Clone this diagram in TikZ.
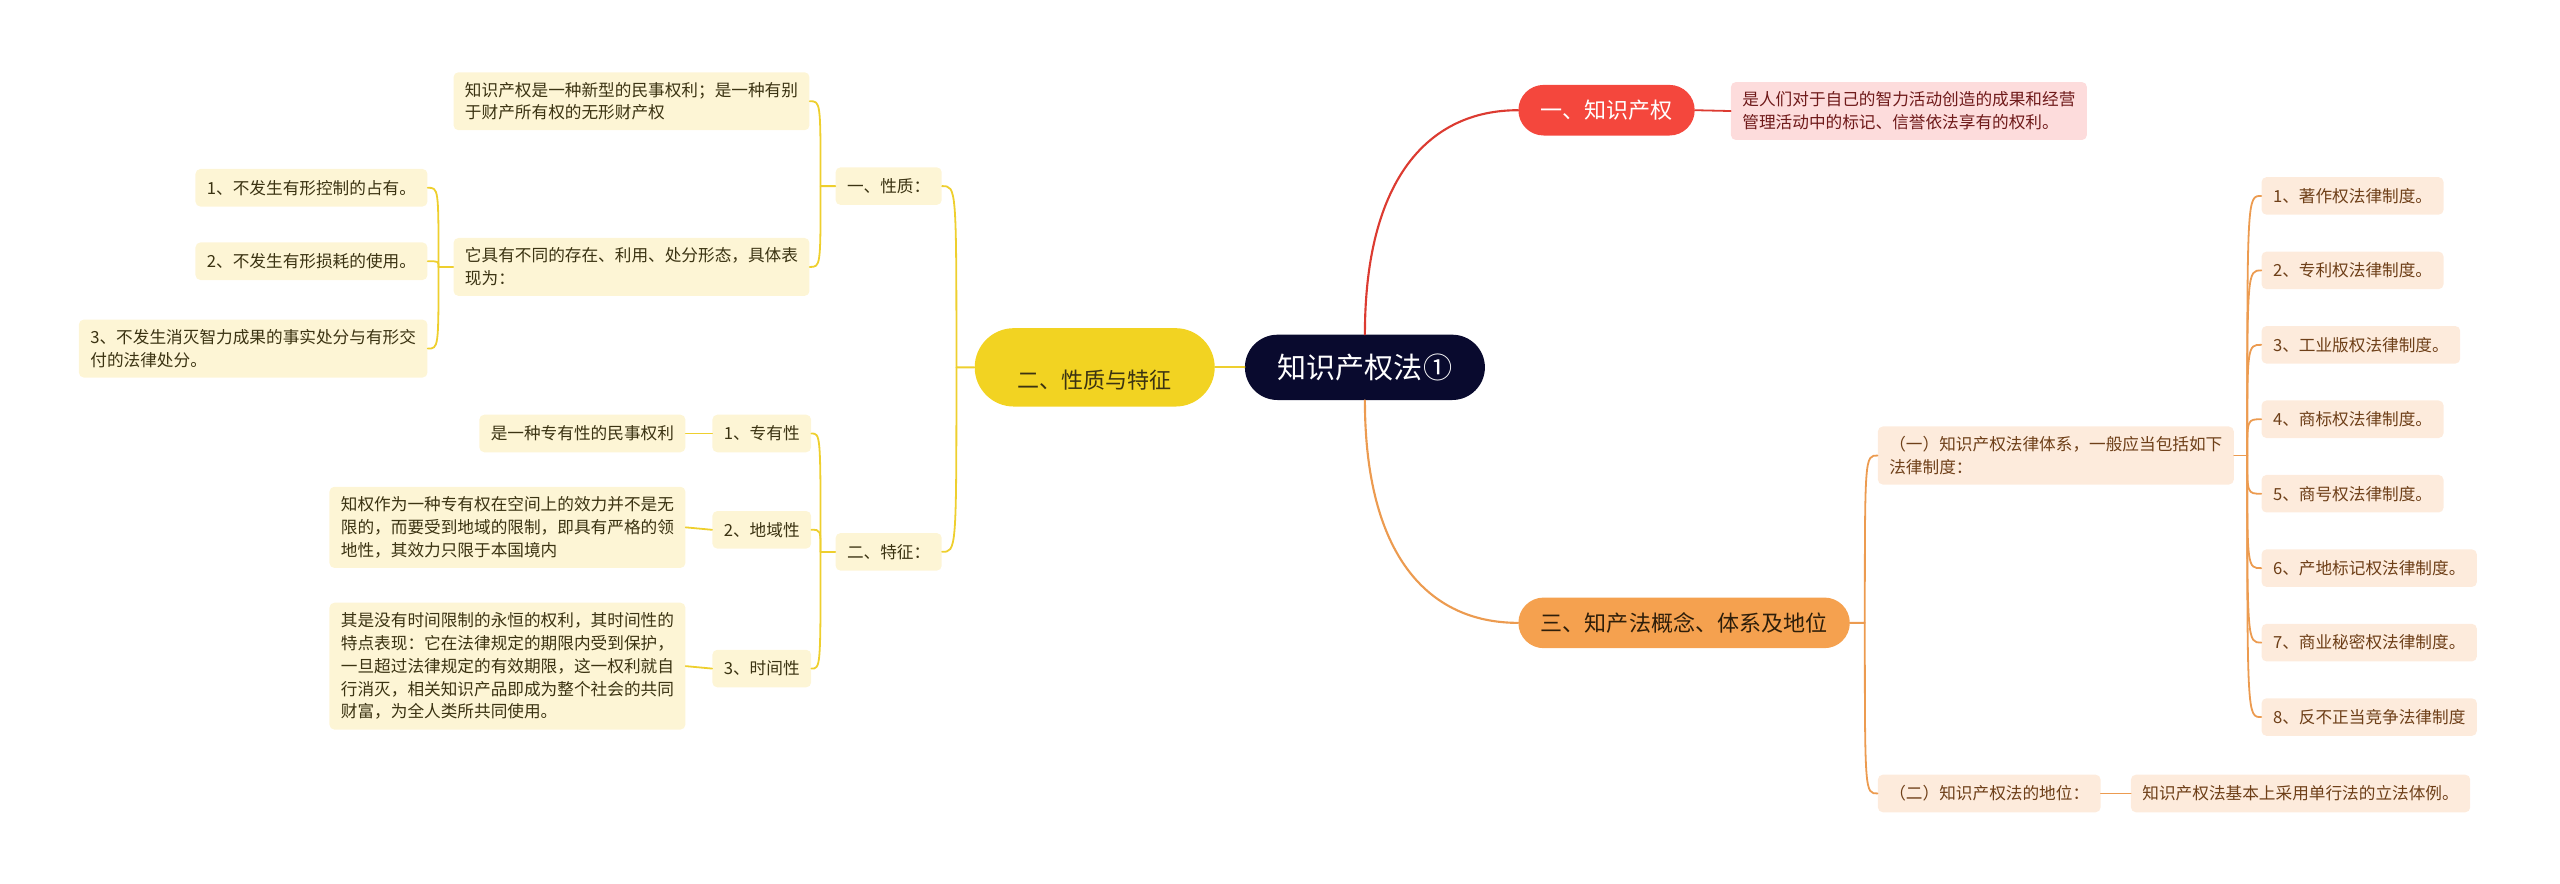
\documentclass[tikz,border=0pt]{standalone}
\usepackage{fontspec}
\setmainfont{Noto Sans CJK SC}
\definecolor{rootbg}{HTML}{090A2E}
\definecolor{ypill}{HTML}{F2D322}
\definecolor{yline}{HTML}{EECF2E}
\definecolor{ycream}{HTML}{FDF5D5}
\definecolor{ytext}{HTML}{3B3312}
\definecolor{rpill}{HTML}{F4473D}
\definecolor{rline}{HTML}{DC3B31}
\definecolor{rpink}{HTML}{FDDCDC}
\definecolor{rtext}{HTML}{6F1A1A}
\definecolor{opill}{HTML}{F5A14F}
\definecolor{oline}{HTML}{EC9B50}
\definecolor{opeach}{HTML}{FDEBDC}
\definecolor{otext}{HTML}{6E3F18}
\definecolor{opilltext}{HTML}{2E1E0A}
\begin{document}
\begin{tikzpicture}[x=1pt, y=-1pt, line join=round, line cap=round,
		tag/.style={rounded corners=3pt, inner xsep=7pt, inner ysep=6pt, minimum height=23pt, align=left, font=\fontsize{10.2}{14}\selectfont},
		ytag/.style={tag, fill=ycream, text=ytext},
		otag/.style={tag, fill=opeach, text=otext},
		rtag/.style={tag, fill=rpink, text=rtext},
		topic/.style={inner sep=0pt, font=\fontsize{13.5}{16}\selectfont},
		ylink/.style={draw=yline, line width=1.1pt},
		olink/.style={draw=oline, line width=1.1pt},
		rlink/.style={draw=rline, line width=1.1pt}]
	\useasboundingbox (0,0) rectangle (1568,541);

	\node[fill=rootbg, text=white, rounded corners=20pt, minimum width=147pt, minimum height=40pt, inner sep=0pt, font=\fontsize{17.8}{20}\selectfont] (root) at (836,225) {知识产权法①};
	\node[topic, fill=ypill, text=ytext, rounded corners=24pt, minimum width=147pt, minimum height=48pt] (xz) at (670.5,225) {\raisebox{-8pt}[\height][\depth]{二、性质与特征}};
	\node[topic, fill=rpill, text=white, rounded corners=15.5pt, minimum width=108pt, minimum height=31pt] (zs) at (984,67.5) {一、知识产权};
	\node[topic, fill=opill, text=opilltext, rounded corners=15.5pt, minimum width=203pt, minimum height=31pt] (gn) at (1031.5,381.5) {三、知产法概念、体系及地位};

	\node[rtag, anchor=west] (zsd) at (1060,68) {是人们对于自己的智力活动创造的成果和经营\\管理活动中的标记、信誉依法享有的权利。};

	\node[ytag, anchor=east] (xz1) at (577,114) {一、性质：};
	\node[ytag, anchor=east] (xz11) at (496,62) {知识产权是一种新型的民事权利；是一种有别\\于财产所有权的无形财产权};
	\node[ytag, anchor=east] (xz12) at (496,163.5) {它具有不同的存在、利用、处分形态，具体表\\现为：};
	\node[ytag, anchor=east] (xz121) at (262,115) {1、不发生有形控制的占有。};
	\node[ytag, anchor=east] (xz122) at (262,160) {2、不发生有形损耗的使用。};
	\node[ytag, anchor=east] (xz123) at (262,213.5) {3、不发生消灭智力成果的事实处分与有形交\\付的法律处分。};
	\node[ytag, anchor=east] (xz2) at (577,338) {二、特征：};
	\node[ytag, anchor=east] (tz1) at (497,265.5) {1、专有性};
	\node[ytag, anchor=east] (tz1d) at (420,265.5) {是一种专有性的民事权利};
	\node[ytag, anchor=east] (tz2) at (497,324.5) {2、地域性};
	\node[ytag, anchor=east] (tz2d) at (420,323) {知权作为一种专有权在空间上的效力并不是无\\限的，而要受到地域的限制，即具有严格的领\\地性，其效力只限于本国境内};
	\node[ytag, anchor=east] (tz3) at (497,409.5) {3、时间性};
	\node[ytag, anchor=east] (tz3d) at (420,408) {其是没有时间限制的永恒的权利，其时间性的\\特点表现：它在法律规定的期限内受到保护，\\一旦超过法律规定的有效期限，这一权利就自\\行消灭，相关知识产品即成为整个社会的共同\\财富，为全人类所共同使用。};

	\node[otag, anchor=west] (tx) at (1150,279) {（一）知识产权法律体系，一般应当包括如下\\法律制度：};
	\foreach \t [count=\i] in {著作权法律制度。,专利权法律制度。,工业版权法律制度。,商标权法律制度。,商号权法律制度。,产地标记权法律制度。,商业秘密权法律制度。,反不正当竞争法律制度}
		\node[otag, anchor=west] (tx\i) at (1385,{74.4+45.6*\i}) {\i、\t};
	\node[otag, anchor=west] (dw) at (1150,486) {（二）知识产权法的地位：};
	\node[otag, anchor=west] (dwd) at (1305,486) {知识产权法基本上采用单行法的立法体例。};

	\draw[rlink, line width=1.3pt] (root.north) .. controls +(0,-95) and +(-55,0) .. (zs.west);
	\draw[rlink] (zs.east) -- (zsd.west);
	\draw[olink, line width=1.3pt] (root.south) .. controls +(0,95) and +(-55,0) .. (gn.west);
	\draw[ylink, line width=1.4pt] (root.west) -- (xz.east);

	\draw[ylink] (xz.west) -- ++(-11,0) coordinate (yt0) .. controls (yt0 |- xz1.east) .. (xz1.east);
	\draw[ylink] (yt0) .. controls (yt0 |- xz2.east) .. (xz2.east);
	\draw[ylink] (xz1.west) -- ++(-9,0) coordinate (yt1) .. controls (yt1 |- xz11.east) .. (xz11.east);
	\draw[ylink] (yt1) .. controls (yt1 |- xz12.east) .. (xz12.east);
	\draw[ylink] (xz12.west) -- ++(-9,0) coordinate (yt2);
	\foreach \n in {xz121,xz122,xz123}
		\draw[ylink] (yt2) .. controls (yt2 |- \n.east) .. (\n.east);
	\draw[ylink] (xz2.west) -- ++(-9,0) coordinate (yt3);
	\foreach \n in {tz1,tz2,tz3}
		\draw[ylink] (yt3) .. controls (yt3 |- \n.east) .. (\n.east);
	\draw[ylink] (tz1.west) -- (tz1d.east);
	\draw[ylink] (tz2.west) -- (tz2d.east);
	\draw[ylink] (tz3.west) -- (tz3d.east);

	\draw[olink] (gn.east) -- ++(9,0) coordinate (ot0) .. controls (ot0 |- tx.west) .. (tx.west);
	\draw[olink] (ot0) .. controls (ot0 |- dw.west) .. (dw.west);
	\draw[olink] (tx.east) -- ++(8,0) coordinate (ot1);
	\foreach \i in {1,...,8}
		\draw[olink] (ot1) .. controls (ot1 |- tx\i.west) .. (tx\i.west);
	\draw[olink] (dw.east) -- (dwd.west);
\end{tikzpicture}
\end{document}
